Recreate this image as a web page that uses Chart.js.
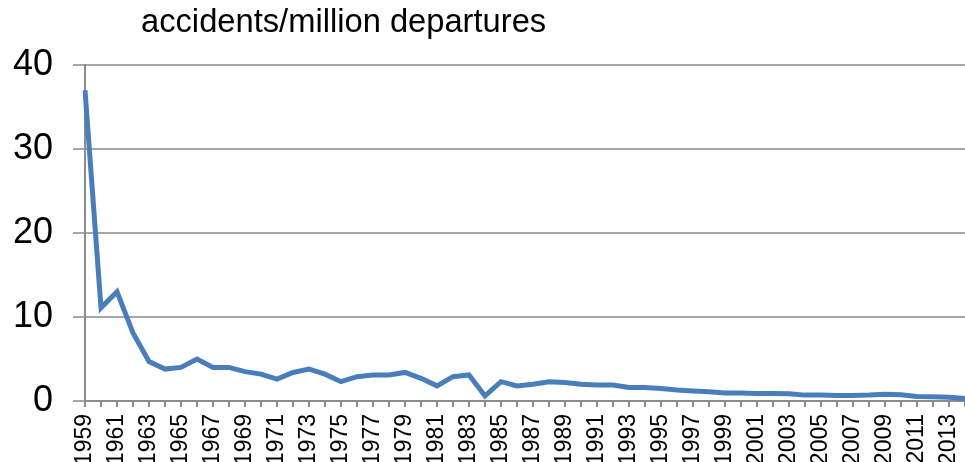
<!DOCTYPE html>
<html>
<head>
<meta charset="utf-8">
<script src="https://cdn.jsdelivr.net/npm/chart.js@4/dist/chart.umd.min.js"></script>
<style>
  html, body { margin: 0; padding: 0; background: #fff; }
  #wrap { width: 965px; height: 462px; position: relative; }
</style>
</head>
<body>
<div id="wrap"><canvas id="chart"></canvas></div>
<script>
const years = [];
for (let y = 1959; y <= 2014; y++) years.push(String(y));

const accidentRate = [
  37.0, 11.1, 13.0, 8.1, 4.7, 3.8, 4.0, 5.0, 4.0, 4.0,
  3.5, 3.2, 2.6, 3.4, 3.8, 3.2, 2.3, 2.9, 3.1, 3.1,
  3.4, 2.7, 1.8, 2.9, 3.1, 0.6, 2.3, 1.8, 2.0, 2.3,
  2.2, 2.0, 1.9, 1.9, 1.6, 1.6, 1.5, 1.3, 1.2, 1.1,
  0.95, 0.95, 0.9, 0.9, 0.85, 0.7, 0.7, 0.65, 0.65, 0.7,
  0.8, 0.75, 0.55, 0.5, 0.45, 0.3
];

const yTicks = [0, 10, 20, 30, 40];
const titleText = "accidents/million departures";
const FONT = "'Liberation Sans', Arial, sans-serif";

// title sits left of centre, not over the plot centre
const titlePlugin = {
  id: "sideTitle",
  afterDraw(chart) {
    const ctx = chart.ctx;
    ctx.save();
    ctx.font = "32.7px " + FONT;
    ctx.fillStyle = "#000";
    ctx.textBaseline = "alphabetic";
    ctx.fillText(titleText, 141, 32);
    ctx.restore();
  }
};

new Chart(document.getElementById("chart"), {
  type: "line",
  data: {
    labels: years,
    datasets: [{
      data: accidentRate,
      borderColor: "#4a7ebb",
      borderWidth: 5,
      pointRadius: 0,
      tension: 0,
      fill: false
    }]
  },
  options: {
    responsive: true,
    maintainAspectRatio: false,
    animation: false,
    layout: { padding: { top: 65, right: 0, left: 0, bottom: 0 } },
    plugins: { legend: { display: false }, tooltip: { enabled: false } },
    scales: {
      x: {
        offset: false,
        grid: {
          drawOnChartArea: false,
          tickLength: 6,
          tickColor: "#8c8c8c",
          lineWidth: 2
        },
        border: { color: "#8c8c8c", width: 2 },
        ticks: {
          autoSkip: false,
          maxRotation: 90,
          minRotation: 90,
          padding: 7,
          color: "#000",
          font: { family: FONT, size: 23 },
          callback: (v, i) => (i % 2 === 0 ? years[i] : "")
        },
        afterFit: (s) => { s.height = 61; s.paddingLeft = 0; s.paddingRight = 0; }
      },
      y: {
        min: 0,
        max: 40,
        afterBuildTicks: (s) => { s.ticks = yTicks.map(v => ({ value: v })); },
        grid: {
          color: "#a6a6a6",
          lineWidth: 2,
          tickLength: 12,
          tickColor: "#a6a6a6"
        },
        border: { color: "#8c8c8c", width: 2 },
        ticks: {
          padding: 20,
          color: "#000",
          font: { family: FONT, size: 36 }
        },
        afterFit: (s) => { s.width = 85; s.paddingTop = 0; s.paddingBottom = 0; }
      }
    }
  },
  plugins: [titlePlugin]
});
</script>
</body>
</html>
